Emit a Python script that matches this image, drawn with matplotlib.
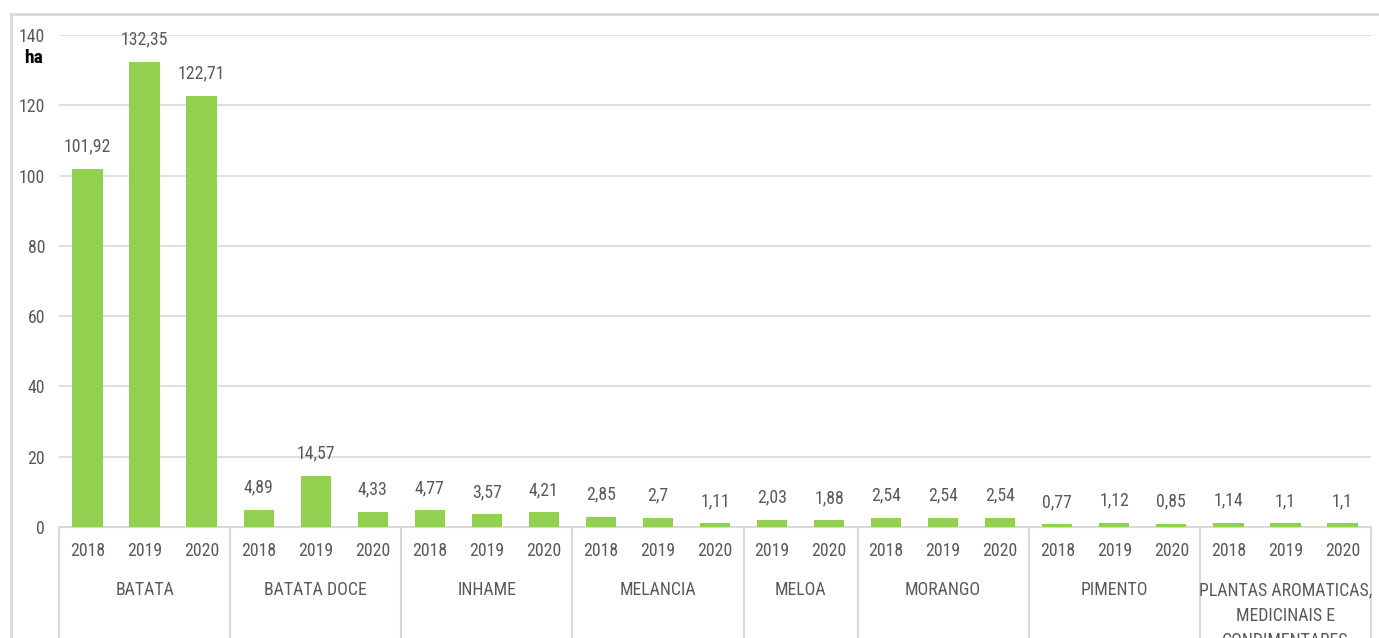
import matplotlib
matplotlib.use("Agg")
import matplotlib.pyplot as plt
from matplotlib.lines import Line2D

# Cultivated area (ha) by crop and year
crops = ["BATATA", "BATATA DOCE", "INHAME", "MELANCIA", "MELOA",
         "MORANGO", "PIMENTO", "PLANTAS AROMATICAS,\nMEDICINAIS E\nCONDIMENTARES"]
years = [
    ["2018", "2019", "2020"],
    ["2018", "2019", "2020"],
    ["2018", "2019", "2020"],
    ["2018", "2019", "2020"],
    ["2019", "2020"],
    ["2018", "2019", "2020"],
    ["2018", "2019", "2020"],
    ["2018", "2019", "2020"],
]
area = [
    [101.92, 132.35, 122.71],
    [4.89, 14.57, 4.33],
    [4.77, 3.57, 4.21],
    [2.85, 2.70, 1.11],
    [2.03, 1.88],
    [2.54, 2.54, 2.54],
    [0.77, 1.12, 0.85],
    [1.14, 1.10, 1.10],
]
y_ticks = [0, 20, 40, 60, 80, 100, 120, 140]

FONT = ["Liberation Sans Narrow", "Roboto Condensed", "Liberation Sans", "DejaVu Sans"]
plt.rcParams["font.family"] = FONT

BAR = "#92D050"
TXT = "#595959"
GRID = "#D9D9D9"

W, H, DPI = 1379, 638, 100
fig = plt.figure(figsize=(W / DPI, H / DPI), dpi=DPI)

# outer chart frame (top and left edges visible)
fig.add_artist(Line2D([10.5 / W, 10.5 / W], [0, 1 - 13.5 / H], transform=fig.transFigure,
                      color=GRID, lw=2))
fig.add_artist(Line2D([10.5 / W, 1], [1 - 13.5 / H, 1 - 13.5 / H], transform=fig.transFigure,
                      color=GRID, lw=2))

left, right = 59 / W, 1371 / W
bottom, top = (H - 527) / H, (H - 35) / H
ax = fig.add_axes([left, bottom, right - left, top - bottom])

# flatten groups into consecutive bar slots
xs, vals, labels, bounds = [], [], [], [0]
pos = 0
for yrs, v in zip(years, area):
    for yr, val in zip(yrs, v):
        xs.append(pos)
        vals.append(val)
        labels.append(yr)
        pos += 1
    bounds.append(pos)
n = pos

ax.bar(xs, vals, width=0.53, color=BAR, zorder=3)

for x, v in zip(xs, vals):
    txt = f"{v:.2f}".rstrip("0").rstrip(".").replace(".", ",")
    ax.annotate(txt, (x, v), xytext=(0, 16), textcoords="offset points",
                ha="center", va="center", fontsize=12.8, color=TXT)

ax.set_xlim(-0.5, n - 0.5)
ax.set_ylim(0, 140)
ax.set_yticks(y_ticks)
ax.set_yticklabels([str(t) for t in y_ticks], fontsize=12.8, color=TXT)
ax.tick_params(axis="y", length=0, pad=10)
ax.set_xticks([])
ax.grid(axis="y", color=GRID, lw=1.2, zorder=0)
for s in ["top", "right", "left"]:
    ax.spines[s].set_visible(False)
ax.spines["bottom"].set_color(GRID)
ax.spines["bottom"].set_linewidth(1.5)

# two-level category axis
trans = ax.get_xaxis_transform()
px = 1.0 / 492  # axes fraction per pixel vertically
for x, lab in zip(xs, labels):
    ax.text(x, -24 * px, lab, transform=trans, ha="center", va="center",
            fontsize=12.8, color=TXT, clip_on=False)
for i, crop in enumerate(crops):
    c = (bounds[i] + bounds[i + 1] - 1) / 2
    ax.text(c, -54 * px, crop, transform=trans, ha="center", va="top",
            fontsize=12.8, color=TXT, linespacing=1.55, clip_on=False)
for b in bounds:
    ax.add_line(Line2D([b - 0.5, b - 0.5], [0, -0.5], transform=trans,
                       color=GRID, lw=1.5, clip_on=False))

fig.text(24 / W, 1 - 58 / H, "ha", fontsize=14, fontweight="bold", color="black",
         ha="left", va="center")

fig.savefig("out.png", dpi=DPI)
